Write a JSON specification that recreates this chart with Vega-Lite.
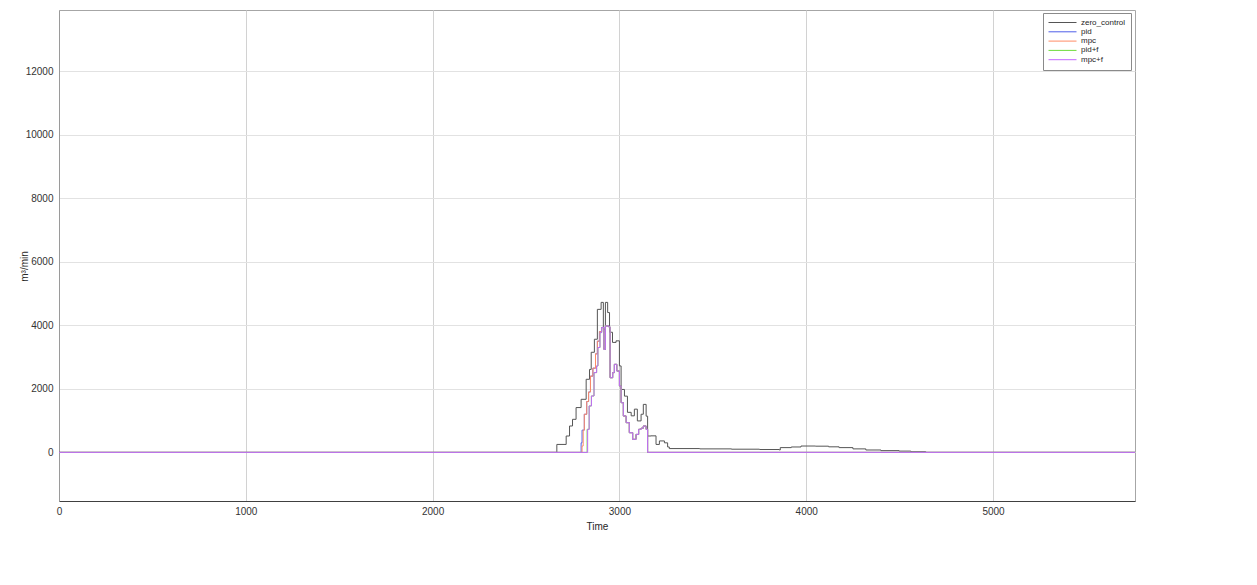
{
  "$schema": "https://vega.github.io/schema/vega-lite/v6.json",
  "autosize": {"type": "none"},
  "width": 1076,
  "height": 491,
  "padding": {"left": 59, "top": 10, "right": 122, "bottom": 84},
  "background": "white",
  "config": {
    "font": "Liberation Sans",
    "view": {"stroke": "#a6a6a6", "strokeWidth": 1},
    "axis": {
      "labelFont": "Liberation Sans",
      "titleFont": "Liberation Sans",
      "labelFontSize": 10,
      "titleFontSize": 10,
      "labelColor": "#333333",
      "titleColor": "#262626",
      "titleFontWeight": "normal",
      "ticks": false
    }
  },
  "data": {
    "values": [
      {"series": "zero_control", "t": 0, "v": 0},
      {"series": "zero_control", "t": 2665, "v": 250},
      {"series": "zero_control", "t": 2715, "v": 515},
      {"series": "zero_control", "t": 2733, "v": 830},
      {"series": "zero_control", "t": 2749, "v": 1040},
      {"series": "zero_control", "t": 2768, "v": 1410},
      {"series": "zero_control", "t": 2795, "v": 1670},
      {"series": "zero_control", "t": 2822, "v": 2300},
      {"series": "zero_control", "t": 2840, "v": 2610},
      {"series": "zero_control", "t": 2849, "v": 3150},
      {"series": "zero_control", "t": 2866, "v": 3560},
      {"series": "zero_control", "t": 2882, "v": 4500},
      {"series": "zero_control", "t": 2902, "v": 4720},
      {"series": "zero_control", "t": 2914, "v": 3870},
      {"series": "zero_control", "t": 2925, "v": 4720},
      {"series": "zero_control", "t": 2937, "v": 4400},
      {"series": "zero_control", "t": 2947, "v": 3780},
      {"series": "zero_control", "t": 2963, "v": 3460},
      {"series": "zero_control", "t": 2982, "v": 3510},
      {"series": "zero_control", "t": 3000, "v": 2720},
      {"series": "zero_control", "t": 3009, "v": 1980},
      {"series": "zero_control", "t": 3027, "v": 1770},
      {"series": "zero_control", "t": 3043, "v": 1260},
      {"series": "zero_control", "t": 3063, "v": 1150},
      {"series": "zero_control", "t": 3080, "v": 1360},
      {"series": "zero_control", "t": 3096, "v": 990},
      {"series": "zero_control", "t": 3116, "v": 1200},
      {"series": "zero_control", "t": 3128, "v": 1510},
      {"series": "zero_control", "t": 3143, "v": 1140},
      {"series": "zero_control", "t": 3151, "v": 515},
      {"series": "zero_control", "t": 3169, "v": 520},
      {"series": "zero_control", "t": 3196, "v": 250},
      {"series": "zero_control", "t": 3214, "v": 360},
      {"series": "zero_control", "t": 3241, "v": 300},
      {"series": "zero_control", "t": 3258, "v": 170},
      {"series": "zero_control", "t": 3267, "v": 120},
      {"series": "zero_control", "t": 3430, "v": 110},
      {"series": "zero_control", "t": 3600, "v": 100},
      {"series": "zero_control", "t": 3750, "v": 90},
      {"series": "zero_control", "t": 3856, "v": 75},
      {"series": "zero_control", "t": 3861, "v": 150},
      {"series": "zero_control", "t": 3920, "v": 170},
      {"series": "zero_control", "t": 3972, "v": 200},
      {"series": "zero_control", "t": 4050, "v": 195},
      {"series": "zero_control", "t": 4120, "v": 175},
      {"series": "zero_control", "t": 4176, "v": 150},
      {"series": "zero_control", "t": 4250, "v": 110},
      {"series": "zero_control", "t": 4319, "v": 75},
      {"series": "zero_control", "t": 4400, "v": 55},
      {"series": "zero_control", "t": 4497, "v": 40},
      {"series": "zero_control", "t": 4560, "v": 20},
      {"series": "zero_control", "t": 4640, "v": 0},
      {"series": "zero_control", "t": 5760, "v": 0},

      {"series": "pid", "t": 0, "v": 0},
      {"series": "pid", "t": 2795, "v": 300},
      {"series": "pid", "t": 2800, "v": 700},
      {"series": "pid", "t": 2806, "v": 700},
      {"series": "pid", "t": 2812, "v": 1200},
      {"series": "pid", "t": 2825, "v": 1600},
      {"series": "pid", "t": 2835, "v": 1900},
      {"series": "pid", "t": 2845, "v": 2400},
      {"series": "pid", "t": 2858, "v": 2650},
      {"series": "pid", "t": 2872, "v": 3100},
      {"series": "pid", "t": 2882, "v": 3500},
      {"series": "pid", "t": 2893, "v": 3800},
      {"series": "pid", "t": 2905, "v": 3930},
      {"series": "pid", "t": 2917, "v": 3240},
      {"series": "pid", "t": 2925, "v": 3980},
      {"series": "pid", "t": 2943, "v": 3950},
      {"series": "pid", "t": 2950, "v": 2350},
      {"series": "pid", "t": 2964, "v": 2510},
      {"series": "pid", "t": 2973, "v": 2770},
      {"series": "pid", "t": 2986, "v": 2560},
      {"series": "pid", "t": 3000, "v": 2090},
      {"series": "pid", "t": 3009, "v": 1565},
      {"series": "pid", "t": 3021, "v": 1145},
      {"series": "pid", "t": 3036, "v": 935},
      {"series": "pid", "t": 3053, "v": 620},
      {"series": "pid", "t": 3071, "v": 410},
      {"series": "pid", "t": 3089, "v": 565},
      {"series": "pid", "t": 3103, "v": 725},
      {"series": "pid", "t": 3116, "v": 760},
      {"series": "pid", "t": 3128, "v": 830},
      {"series": "pid", "t": 3143, "v": 725},
      {"series": "pid", "t": 3151, "v": 0},
      {"series": "pid", "t": 5760, "v": 0},

      {"series": "mpc", "t": 0, "v": 0},
      {"series": "mpc", "t": 2800, "v": 200},
      {"series": "mpc", "t": 2806, "v": 700},
      {"series": "mpc", "t": 2812, "v": 1200},
      {"series": "mpc", "t": 2825, "v": 1600},
      {"series": "mpc", "t": 2835, "v": 1900},
      {"series": "mpc", "t": 2845, "v": 2400},
      {"series": "mpc", "t": 2858, "v": 2650},
      {"series": "mpc", "t": 2872, "v": 3100},
      {"series": "mpc", "t": 2882, "v": 3500},
      {"series": "mpc", "t": 2893, "v": 3800},
      {"series": "mpc", "t": 2905, "v": 3930},
      {"series": "mpc", "t": 2917, "v": 3240},
      {"series": "mpc", "t": 2925, "v": 3980},
      {"series": "mpc", "t": 2943, "v": 3950},
      {"series": "mpc", "t": 2950, "v": 2350},
      {"series": "mpc", "t": 2964, "v": 2510},
      {"series": "mpc", "t": 2973, "v": 2770},
      {"series": "mpc", "t": 2986, "v": 2560},
      {"series": "mpc", "t": 3000, "v": 2090},
      {"series": "mpc", "t": 3009, "v": 1565},
      {"series": "mpc", "t": 3021, "v": 1145},
      {"series": "mpc", "t": 3036, "v": 935},
      {"series": "mpc", "t": 3053, "v": 620},
      {"series": "mpc", "t": 3071, "v": 410},
      {"series": "mpc", "t": 3089, "v": 565},
      {"series": "mpc", "t": 3103, "v": 725},
      {"series": "mpc", "t": 3116, "v": 760},
      {"series": "mpc", "t": 3128, "v": 830},
      {"series": "mpc", "t": 3143, "v": 725},
      {"series": "mpc", "t": 3151, "v": 0},
      {"series": "mpc", "t": 5760, "v": 0},

      {"series": "pid+f", "t": 0, "v": 0},
      {"series": "pid+f", "t": 2827, "v": 725},
      {"series": "pid+f", "t": 2838, "v": 1460},
      {"series": "pid+f", "t": 2850, "v": 1775},
      {"series": "pid+f", "t": 2864, "v": 2510},
      {"series": "pid+f", "t": 2878, "v": 2720},
      {"series": "pid+f", "t": 2885, "v": 3300},
      {"series": "pid+f", "t": 2896, "v": 3770},
      {"series": "pid+f", "t": 2905, "v": 3930},
      {"series": "pid+f", "t": 2917, "v": 3240},
      {"series": "pid+f", "t": 2925, "v": 3980},
      {"series": "pid+f", "t": 2943, "v": 3950},
      {"series": "pid+f", "t": 2950, "v": 2350},
      {"series": "pid+f", "t": 2964, "v": 2510},
      {"series": "pid+f", "t": 2973, "v": 2770},
      {"series": "pid+f", "t": 2986, "v": 2560},
      {"series": "pid+f", "t": 3000, "v": 2090},
      {"series": "pid+f", "t": 3009, "v": 1565},
      {"series": "pid+f", "t": 3021, "v": 1145},
      {"series": "pid+f", "t": 3036, "v": 935},
      {"series": "pid+f", "t": 3053, "v": 620},
      {"series": "pid+f", "t": 3071, "v": 410},
      {"series": "pid+f", "t": 3089, "v": 565},
      {"series": "pid+f", "t": 3103, "v": 725},
      {"series": "pid+f", "t": 3116, "v": 760},
      {"series": "pid+f", "t": 3128, "v": 830},
      {"series": "pid+f", "t": 3143, "v": 725},
      {"series": "pid+f", "t": 3151, "v": 0},
      {"series": "pid+f", "t": 5760, "v": 0},

      {"series": "mpc+f", "t": 0, "v": 0},
      {"series": "mpc+f", "t": 2830, "v": 725},
      {"series": "mpc+f", "t": 2838, "v": 1460},
      {"series": "mpc+f", "t": 2850, "v": 1775},
      {"series": "mpc+f", "t": 2864, "v": 2510},
      {"series": "mpc+f", "t": 2878, "v": 2720},
      {"series": "mpc+f", "t": 2885, "v": 3300},
      {"series": "mpc+f", "t": 2896, "v": 3770},
      {"series": "mpc+f", "t": 2905, "v": 3930},
      {"series": "mpc+f", "t": 2917, "v": 3240},
      {"series": "mpc+f", "t": 2925, "v": 3980},
      {"series": "mpc+f", "t": 2943, "v": 3950},
      {"series": "mpc+f", "t": 2950, "v": 2350},
      {"series": "mpc+f", "t": 2964, "v": 2510},
      {"series": "mpc+f", "t": 2973, "v": 2770},
      {"series": "mpc+f", "t": 2986, "v": 2560},
      {"series": "mpc+f", "t": 3000, "v": 2090},
      {"series": "mpc+f", "t": 3009, "v": 1565},
      {"series": "mpc+f", "t": 3021, "v": 1145},
      {"series": "mpc+f", "t": 3036, "v": 935},
      {"series": "mpc+f", "t": 3053, "v": 620},
      {"series": "mpc+f", "t": 3071, "v": 410},
      {"series": "mpc+f", "t": 3089, "v": 565},
      {"series": "mpc+f", "t": 3103, "v": 725},
      {"series": "mpc+f", "t": 3116, "v": 760},
      {"series": "mpc+f", "t": 3128, "v": 830},
      {"series": "mpc+f", "t": 3143, "v": 725},
      {"series": "mpc+f", "t": 3151, "v": 0},
      {"series": "mpc+f", "t": 5760, "v": 0}
    ]
  },
  "mark": {"type": "line", "interpolate": "step-after", "strokeWidth": 1, "clip": true},
  "encoding": {
    "x": {
      "field": "t",
      "type": "quantitative",
      "scale": {"domain": [0, 5760], "nice": false, "zero": false},
      "axis": {
        "title": "Time",
        "values": [0, 1000, 2000, 3000, 4000, 5000],
        "format": "d",
        "labelPadding": 5,
        "titlePadding": 5,
        "domainColor": "#404040",
        "gridColor": "#d2d2d2",
        "labelFlush": false
      }
    },
    "y": {
      "field": "v",
      "type": "quantitative",
      "scale": {"domain": [-1530, 13920], "nice": false, "zero": false},
      "axis": {
        "title": "m³/min",
        "values": [0, 2000, 4000, 6000, 8000, 10000, 12000],
        "format": "d",
        "labelPadding": 6,
        "domainColor": "#9a9a9a",
        "gridColor": "#e2e2e2",
        "titleX": -30,
        "titleY": 256,
        "titleAngle": -90,
        "titleAlign": "center",
        "titleBaseline": "bottom"
      }
    },
    "color": {
      "field": "series",
      "type": "nominal",
      "sort": ["zero_control", "pid", "mpc", "pid+f", "mpc+f"],
      "scale": {
        "domain": ["zero_control", "pid", "mpc", "pid+f", "mpc+f"],
        "range": ["#555555", "#4f5fe8", "#ff8c66", "#6fdc3c", "#c466ff"]
      },
      "legend": {
        "title": null,
        "orient": "none",
        "legendX": 984,
        "legendY": 3,
        "symbolType": "stroke",
        "symbolSize": 784,
        "symbolStrokeWidth": 1,
        "clipHeight": 9,
        "rowPadding": 0.3,
        "labelFont": "Liberation Sans",
        "labelFontSize": 8,
        "labelColor": "#262626",
        "labelOffset": 4,
        "padding": 5,
        "strokeColor": "#8a8a8a",
        "fillColor": "white",
        "encode": {
          "symbols": {
            "update": {
              "stroke": {"scale": "color", "field": "value"},
              "strokeWidth": {"value": 1}
            }
          }
        }
      }
    }
  }
}
